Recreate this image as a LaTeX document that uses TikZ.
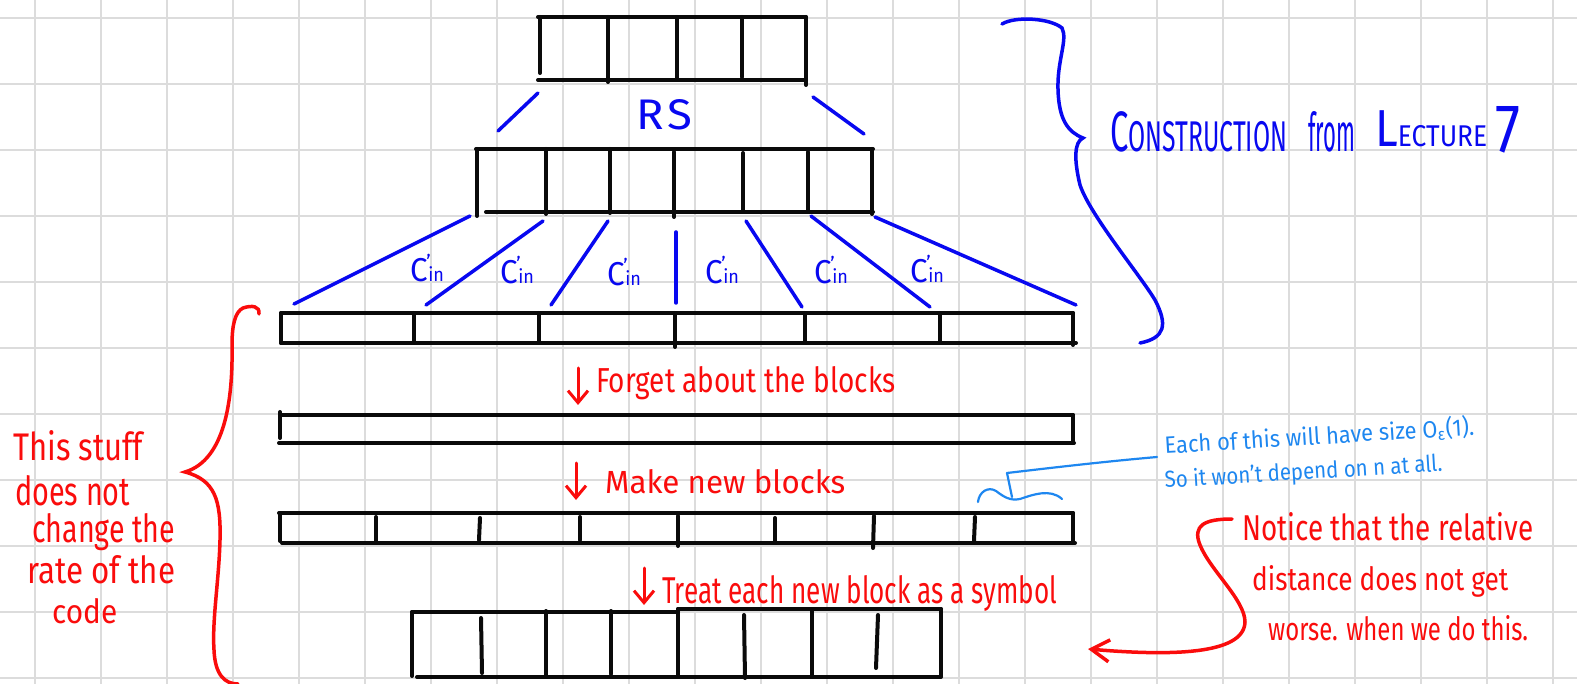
\documentclass[tikz,border=0pt]{standalone}
\usepackage{fontspec}
\usepackage{graphicx}
\setmainfont{Fira Sans}
\usetikzlibrary{arrows.meta}
\definecolor{inkblue}{RGB}{8,8,240}
\definecolor{inkred}{RGB}{250,12,12}
\definecolor{inklight}{RGB}{30,135,240}
\definecolor{gridgray}{RGB}{220,220,220}
\definecolor{inkblack}{RGB}{10,10,10}
\newcommand\hw[3]{\resizebox{#1pt}{#2pt}{#3}}
\newcommand\cinlabel{\hw{34}{28}{{\fontsize{26}{26}\selectfont C}\kern-1pt\raisebox{10pt}{\fontsize{16}{16}\selectfont '}\kern-2pt{\fontsize{15}{15}\selectfont in}}}
\begin{document}
\begin{tikzpicture}[x=1pt,y=-1pt,
  gridline/.style={draw=gridgray,line width=2pt},
  blk/.style={draw=inkblack,line width=4pt,line cap=round},
  bluepen/.style={draw=inkblue,line width=3.5pt,line cap=round},
  redpen/.style={draw=inkred,line width=3.5pt,line cap=round},
  lightpen/.style={draw=inklight,line width=2.2pt,line cap=round,line join=round},
  txt/.style={anchor=base west,inner sep=0pt},
  lbl/.style={anchor=center,inner sep=0pt,text=inkblue},
  downarrow/.style={redpen,line width=3pt,-{Straight Barb[length=12pt,width=20pt]}}]
\useasboundingbox (0,0) rectangle (1577,684);
\fill[white] (0,0) rectangle (1577,684);
% grid
\foreach \i in {0,...,23} \draw[gridline] ({34.7+66*\i},0) -- ({34.7+66*\i},684);
\foreach \j in {0,...,10} \draw[gridline] (0,{17.7+66*\j}) -- (1577,{17.7+66*\j});

% block A (top)
\draw[blk] (538,17) -- (806,17);
\draw[blk] (540,17) -- (540,73);
\draw[blk] (806,17) -- (806,85);
\draw[blk] (538,80) -- (806,80);
\draw[blk] (608,17) -- (608,82);
\draw[blk] (677,17) -- (677,80);
\draw[blk] (742,17) -- (742,77);

% block B
\draw[blk] (476,149) -- (873,149);
\draw[blk] (477,149) -- (477,216);
\draw[blk] (872,149) -- (872,214);
\draw[blk] (486,212) -- (873,212);
\draw[blk] (546,149) -- (546,214);
\draw[blk] (610,149) -- (610,213);
\draw[blk] (674,152) -- (674,217);
\draw[blk] (743,153) -- (743,212);
\draw[blk] (808,152) -- (808,210);

% block C
\draw[blk] (281,313) -- (1073,313);
\draw[blk] (281,343) -- (1076,343);
\draw[blk] (281,313) -- (281,343);
\draw[blk] (1073,313) -- (1073,345);
\foreach \x in {414,539,805,940} \draw[blk] (\x,313) -- (\x,343);
\draw[blk] (675,313) -- (675,347);

% block D
\draw[blk] (281,415) -- (1073,415);
\draw[blk] (280,412) -- (280,438);
\draw[blk] (1073,415) -- (1073,443);
\draw[blk] (279,443) -- (1074,443);

% block E
\draw[blk] (279,513) -- (1073,513);
\draw[blk] (282,543) -- (1075,543);
\draw[blk] (280,513) -- (280,541);
\draw[blk] (1073,513) -- (1073,543);
\draw[blk] (376,517) -- (376,541);
\draw[blk] (480,518) -- (479,540);
\draw[blk] (580,517) -- (580,540);
\draw[blk] (678,516) -- (678,546);
\draw[blk] (775,518) -- (775,542);
\draw[blk] (874,516) -- (873,548);
\draw[blk] (975,517) -- (974,541);

% block F
\draw[blk] (412,612) -- (678,612);
\draw[blk] (678,609) -- (941,609);
\draw[blk] (412,612) -- (412,676);
\draw[blk] (941,609) -- (941,676);
\draw[blk] (417,677) -- (941,677);
\draw[blk] (481,618) -- (482,673);
\draw[blk] (546,611) -- (546,676);
\draw[blk] (611,611) -- (611,674);
\draw[blk] (678,609) -- (678,676);
\draw[blk] (744,615) -- (745,678);
\draw[blk] (812,609) -- (812,676);
\draw[blk] (878,615) -- (876,668);

% RS connectors
\coordinate (a1) at (538,93); \coordinate (b1t) at (498,131);
\coordinate (a2) at (813,97); \coordinate (b2t) at (864,134);
\draw[bluepen] (a1) -- (b1t);
\draw[bluepen] (a2) -- (b2t);
\node[txt,text=inkblue] (rs) at (636,130) {\hw{56}{30}{R\hspace{0.08em}S}};

% C'in connectors
\coordinate (u1) at (470,216); \coordinate (v1) at (294,304);
\coordinate (u2) at (543,221); \coordinate (v2) at (426,305);
\coordinate (u3) at (608,221); \coordinate (v3) at (551,305);
\coordinate (u4) at (676,232); \coordinate (v4) at (676,303);
\coordinate (u5) at (746,221); \coordinate (v5) at (802,307);
\coordinate (u6) at (811,216); \coordinate (v6) at (930,307);
\coordinate (u7) at (875,217); \coordinate (v7) at (1076,305);
\foreach \k in {1,...,7} \draw[bluepen] (u\k) -- (v\k);
\node[lbl] (c1) at (427,268) {\cinlabel};
\node[lbl] (c2) at (517,270) {\cinlabel};
\node[lbl] (c3) at (624,272) {\cinlabel};
\node[lbl] (c4) at (722,270) {\cinlabel};
\node[lbl] (c5) at (831,270) {\cinlabel};
\node[lbl] (c6) at (927,269) {\cinlabel};

% blue brace and title
\draw[bluepen] (1002,24) .. controls (1015,16) and (1050,18) .. (1062,28)
  .. controls (1068,40) and (1057,60) .. (1058,90)
  .. controls (1059,120) and (1068,132) .. (1083,138)
  .. controls (1074,142) and (1074,160) .. (1080,185)
  .. controls (1090,215) and (1140,275) .. (1155,300)
  .. controls (1168,325) and (1165,338) .. (1140,343);
\node[txt,text=inkblue] (tw1) at (1110,152) {\resizebox{177pt}{\height}{{\fontsize{57}{57}\selectfont C}{\fontsize{43}{43}\selectfont ONSTRUCTION}}};
\node[txt,text=inkblue] (tw2) at (1308,152) {\hw{47}{40}{from}};
\node[txt,text=inkblue] (tw3) at (1375,147) {\resizebox{112pt}{\height}{{\fontsize{52}{52}\selectfont L}{\fontsize{30}{30}\selectfont ECTURE}}};
\node[txt,text=inkblue] (tw4) at (1495,153) {\hw{25}{46}{7}};

% red steps
\coordinate (d1a) at (578,368); \coordinate (d1b) at (578,405);
\draw[downarrow] (d1a) -- (d1b);
\node[txt,text=inkred] (s1) at (596,392) {\hw{299}{26}{Forget about the blocks}};
\coordinate (d2a) at (576,463); \coordinate (d2b) at (576,500);
\draw[downarrow] (d2a) -- (d2b);
\node[txt,text=inkred] (s2) at (605,493) {\hw{240}{24}{Make new blocks}};
\coordinate (d3a) at (644,568); \coordinate (d3b) at (644,605);
\draw[downarrow] (d3a) -- (d3b);
\node[txt,text=inkred] (s3) at (662,603) {\hw{395}{28}{Treat each new block as a symbol}};

% red left brace and text
\draw[redpen] (259,314) .. controls (260,306) and (252,305) .. (243,308)
  .. controls (235,312) and (232,325) .. (232,345)
  .. controls (233,400) and (225,460) .. (185,472)
  .. controls (215,480) and (221,500) .. (220,540)
  .. controls (219,580) and (212,620) .. (214,650)
  .. controls (215,675) and (225,684) .. (238,684);
\node[txt,text=inkred] (l1) at (13,460) {\hw{130}{30}{This stuff}};
\node[txt,text=inkred] (l2) at (15,505) {\hw{115}{30}{does not}};
\node[txt,text=inkred] (l3) at (32,542) {\hw{143}{29}{change the}};
\node[txt,text=inkred] (l4) at (27,583) {\hw{148}{28}{rate of the}};
\node[txt,text=inkred] (l5) at (52,623) {\hw{65}{25}{code}};

% red right note and arrow
\coordinate (ra) at (1232,519); \coordinate (rb) at (1088,649);
\draw[redpen,-{Straight Barb[length=18pt,width=22pt]}] (ra) .. controls (1205,519) and (1192,525) .. (1200,545)
  .. controls (1210,570) and (1245,600) .. (1245,622)
  .. controls (1244,655) and (1170,656) .. (rb);
\node[txt,text=inkred] (r1) at (1242,540) {\hw{291}{28}{Notice that the relative}};
\node[txt,text=inkred] (r2) at (1252,590) {\hw{256}{25}{distance does not get}};
\node[txt,text=inkred] (r3) at (1268,640) {\hw{260}{25}{worse. when we do this.}};

% light blue note
\draw[lightpen] (978,502) .. controls (979,492) and (988,486) .. (996,491)
  .. controls (1004,497) and (1010,501) .. (1020,499)
  .. controls (1032,495) and (1050,488) .. (1062,499);
\coordinate (sq) at (1012,497); \coordinate (nt) at (1157,457);
\draw[lightpen] (sq) -- (1007,473) .. controls (1050,468) and (1100,462) .. (nt);
\node[txt,text=inklight,rotate=3.5] (n1) at (1165,454) {\hw{310}{20}{Each of this will have size O\textsubscript{ε}(1).}};
\node[txt,text=inklight,rotate=3.5] (n2) at (1165,488) {\hw{278}{18}{So it won't depend on n at all.}};
\end{tikzpicture}
\end{document}
